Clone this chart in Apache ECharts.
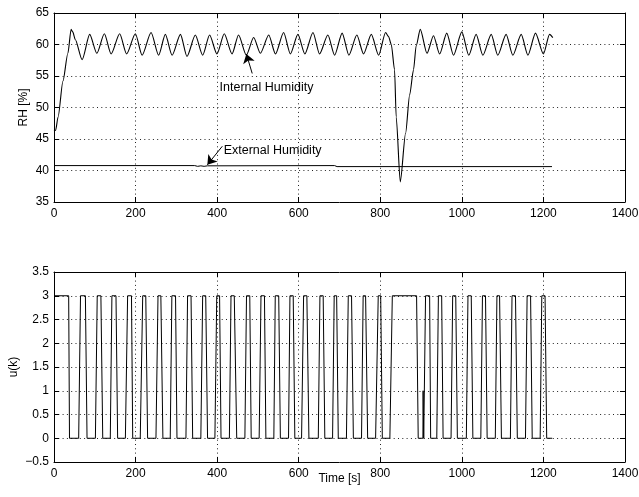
<!DOCTYPE html>
<html>
<head>
<meta charset="utf-8">
<script src="https://cdn.jsdelivr.net/npm/echarts@6/dist/echarts.min.js"></script>
<style>
html, body { margin: 0; padding: 0; background: #fff; }
#chart { width: 639px; height: 497px; }
</style>
</head>
<body>
<div id="chart"></div>
<script>
'use strict';

// internal humidity [time s, RH %] (peaks / troughs)
var internalHumidity = [
    [0, 46.3], [4, 46.4], [10, 48.5], [22, 54.2], [34, 58.6], [42, 62.4], [46, 62], [52, 60.8], [69, 57.6],
    [87.5, 61.6], [105, 58.6], [123.5, 61.7], [140, 58.5], [161, 61.7], [178, 58.5], [199.5, 61.7],
    [216, 58.3], [238, 61.9], [256.5, 58.3], [273, 61.6], [289.5, 58.3], [310, 61.6], [326, 58.1],
    [346.5, 61.5], [364.5, 58.3], [381.5, 61.5], [399.5, 58.5], [417.5, 61.7], [436.5, 58.5],
    [452.5, 61.5], [471.5, 58.3], [489.5, 61.1], [506, 58.6], [526.5, 61.5], [543, 58.5], [563, 61.9],
    [579.5, 58.5], [598, 61.6], [615, 58.5], [635, 61.9], [651, 58.5], [671.5, 61.5], [688, 58.3],
    [706.5, 61.8], [723, 58.3], [742.5, 61.5], [759, 58.5], [778, 61.6], [796, 58.3], [813, 61.9],
    [820, 61.3], [827, 60], [835, 56], [839, 48.5], [849, 38.2], [862, 45.9], [872, 52], [881.5, 56],
    [888, 59.8], [898, 62.4], [914.5, 58.6], [930.5, 61.4], [945.5, 58.5], [963, 61.8], [979.5, 58.3],
    [1000, 62], [1017, 58.3], [1035, 61.6], [1051.5, 58.3], [1072, 61.6], [1088, 58.3], [1108.5, 61.6],
    [1125, 58.3], [1145.5, 61.6], [1162, 58.3], [1180.5, 61.8], [1200, 58.5], [1215, 61.6], [1223, 61.1]
];

// external humidity [time s, RH %]
var externalHumidity = [
    [0, 40.78], [345, 40.78], [352, 40.66], [360, 40.74], [368, 40.66], [376, 40.74], [380, 40.78],
    [688, 40.78], [694, 40.62], [1221, 40.62]
];

// u(k): starts high, then pulses [rise start, level reached, fall start, back at 0, level]
var controlStart = [[0, 3], [36, 3], [38, 0]];
var controlPulses = [
    [60.5, 65, 77, 81, 3], [101.5, 106, 115, 119.5, 3], [138, 142, 152, 156, 3],
    [175, 180.5, 190, 193, 3], [211.5, 217.5, 225, 229.5, 3], [250, 255, 262, 267, 3],
    [285, 289, 298, 301.5, 3], [323.5, 327.5, 336, 340, 3], [360, 364.5, 372, 376.5, 3],
    [394.5, 399, 406, 409.5, 3], [430, 434, 442, 448, 3], [468, 472, 480, 483.5, 3],
    [503, 507.5, 516, 519.5, 3], [539, 542.5, 551, 555, 3], [575, 578.5, 586.5, 590.5, 3],
    [607, 612, 620, 625, 3], [648, 652, 660, 664, 3], [683, 687, 693, 697, 3],
    [717, 721.5, 729.5, 734, 3], [754, 758, 764, 769, 3], [788.5, 795, 801, 805, 3],
    [823.5, 829.5, 889, 893, 3], [904.5, 905, 906, 906.5, 1], [909, 911, 921, 923.5, 3],
    [938.5, 942.5, 950.5, 954, 3], [973.5, 977.5, 985, 989, 3], [1011, 1015, 1023, 1027, 3],
    [1046.5, 1050.5, 1058, 1062, 3], [1082, 1086, 1092.5, 1097, 3], [1119, 1123, 1131.5, 1136, 3],
    [1156, 1160, 1168.5, 1172.5, 3], [1192, 1196, 1204, 1208, 3]
];
var controlEnd = [1221.5, 0];

// annotations: text anchor and arrow [from, to] in data coordinates
var internalLabel = { text: 'Internal Humidity', at: [406, 53.2], arrow: [[486, 55.4], [471.6, 58.5]] };
var externalLabel = { text: 'External Humidity', at: [416, 43.1], arrow: [[412.7, 43.85], [376, 40.9]] };

var controlSignal = controlStart.slice();
controlPulses.forEach(function (p) {
    controlSignal.push([p[0], 0], [p[1], p[4]], [p[2], p[4]], [p[3], 0]);
});
controlSignal.push(controlEnd);

var FONT = '"Liberation Sans", Arial, Helvetica, sans-serif';
var black = '#000';

function plainNumber(v) {
    return String(v).replace('-', '\u2212');
}

function xAxisFor(grid, pos, extra) {
    var ax = {
        gridIndex: grid, type: 'value', position: pos,
        min: 0, max: 1400, interval: 200,
        axisLine: { show: true, onZero: false, lineStyle: { color: black, width: 1 } },
        axisTick: { show: true, inside: true, length: 5, lineStyle: { color: black } },
        axisLabel: { show: pos === 'bottom', color: black, fontSize: 12, fontFamily: FONT, margin: 6, formatter: plainNumber },
        splitLine: { show: pos === 'bottom', lineStyle: { color: '#222', width: 1, type: [1, 3.3] } }
    };
    return Object.assign(ax, extra || {});
}

function yAxisFor(grid, pos, range, extra) {
    var ax = {
        gridIndex: grid, type: 'value', position: pos,
        min: range[0], max: range[1], interval: range[2],
        axisLine: { show: true, onZero: false, lineStyle: { color: black, width: 1 } },
        axisTick: { show: true, inside: true, length: 5, lineStyle: { color: black } },
        axisLabel: { show: pos === 'left', color: black, fontSize: 12, fontFamily: FONT, margin: 5, formatter: plainNumber },
        splitLine: { show: pos === 'left', lineStyle: { color: '#222', width: 1, type: [1, 3.3] } }
    };
    return Object.assign(ax, extra || {});
}

function annotation(a) {
    return {
        markLine: {
            silent: true, animation: false,
            symbol: ['none', 'arrow'], symbolSize: 9,
            label: { show: false },
            lineStyle: { color: black, width: 1, type: 'solid' },
            data: [[{ coord: a.arrow[0] }, { coord: a.arrow[1] }]]
        },
        markPoint: {
            silent: true, animation: false,
            symbol: 'circle', symbolSize: 0,
            data: [{
                coord: a.at,
                label: {
                    show: true, position: 'right', distance: 0, formatter: a.text,
                    color: black, fontSize: 12.5, fontFamily: FONT
                }
            }]
        }
    };
}

var chart = echarts.init(document.getElementById('chart'));
var option = {
    animation: false,
    backgroundColor: '#fff',
    textStyle: { fontFamily: FONT },
    grid: [
        { left: 54, top: 13, right: 14, height: 189, containLabel: false, outerBoundsMode: 'none' },
        { left: 54, top: 272, right: 14, height: 190, containLabel: false, outerBoundsMode: 'none' }
    ],
    xAxis: [
        xAxisFor(0, 'bottom'),
        xAxisFor(0, 'top'),
        xAxisFor(1, 'bottom', {
            name: 'Time [s]', nameLocation: 'middle', nameGap: 11, nameMoveOverlap: false,
            nameTextStyle: { color: black, fontSize: 12, fontFamily: FONT }
        }),
        xAxisFor(1, 'top')
    ],
    yAxis: [
        yAxisFor(0, 'left', [35, 65, 5], {
            name: 'RH [%]', nameLocation: 'middle', nameGap: 24, nameMoveOverlap: false,
            nameTextStyle: { color: black, fontSize: 12, fontFamily: FONT }
        }),
        yAxisFor(0, 'right', [35, 65, 5]),
        yAxisFor(1, 'left', [-0.5, 3.5, 0.5], {
            name: 'u(k)', nameLocation: 'middle', nameGap: 34, nameMoveOverlap: false,
            nameTextStyle: { color: black, fontSize: 12, fontFamily: FONT }
        }),
        yAxisFor(1, 'right', [-0.5, 3.5, 0.5])
    ],
    series: [
        Object.assign({
            name: 'Internal Humidity', type: 'line', xAxisIndex: 0, yAxisIndex: 0,
            data: internalHumidity, showSymbol: false, smooth: 0.25, smoothMonotone: 'x',
            lineStyle: { color: black, width: 1.1 }
        }, annotation(internalLabel)),
        Object.assign({
            name: 'External Humidity', type: 'line', xAxisIndex: 0, yAxisIndex: 0,
            data: externalHumidity, showSymbol: false,
            lineStyle: { color: black, width: 1 }
        }, annotation(externalLabel)),
        {
            name: 'u(k)', type: 'line', xAxisIndex: 2, yAxisIndex: 2,
            data: controlSignal, showSymbol: false,
            lineStyle: { color: black, width: 1 }
        }
    ]
};
chart.setOption(option);
</script>
</body>
</html>
